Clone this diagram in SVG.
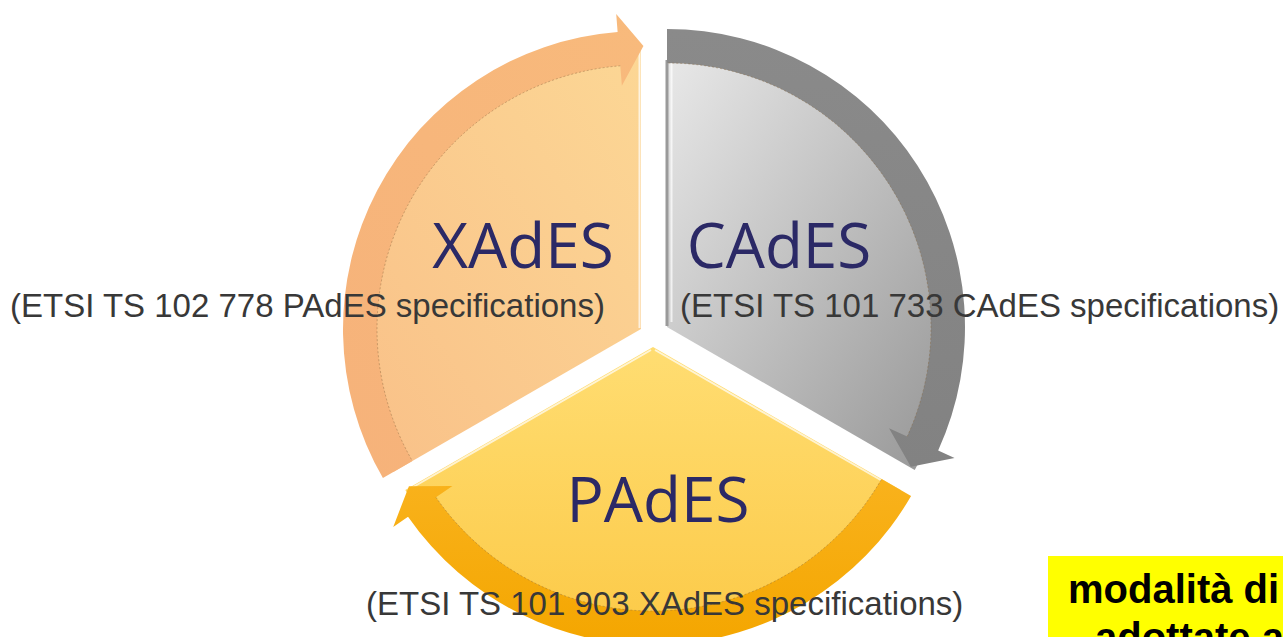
<svg xmlns="http://www.w3.org/2000/svg" width="1283" height="637" viewBox="0 0 1283 637">
  <style>
    .name { font-family: "Open Sans", "Noto Sans", "DejaVu Sans", sans-serif; font-size: 62px; fill: #2B2966; text-anchor: middle; }
    .spec { font-family: "Liberation Sans", Arial, sans-serif; font-size: 33px; fill: #383838; }
    .note { font-family: "Liberation Sans", Arial, sans-serif; font-size: 40px; font-weight: bold; fill: #000000; }
    .seam { stroke: #8a6a40; stroke-width: 0.8; stroke-dasharray: 2 2; fill: none; opacity: 0.55; }
    .hi { stroke: #ffffff; stroke-width: 2; opacity: 0.7; fill: none; }
  </style>
  <defs>
    <linearGradient id="xBody" x1="1" y1="0" x2="0" y2="1">
      <stop offset="0" stop-color="#FCD795"/>
      <stop offset="1" stop-color="#F9C088"/>
    </linearGradient>
    <linearGradient id="xBand" x1="0" y1="1" x2="1" y2="0">
      <stop offset="0" stop-color="#F6B27A"/>
      <stop offset="1" stop-color="#F8BA7C"/>
    </linearGradient>
    <linearGradient id="cBody" x1="0" y1="0" x2="1" y2="1">
      <stop offset="0" stop-color="#EAEAEA"/>
      <stop offset="1" stop-color="#959595"/>
    </linearGradient>
    <linearGradient id="cBand" x1="0" y1="0" x2="0" y2="1">
      <stop offset="0" stop-color="#8A8A8A"/>
      <stop offset="1" stop-color="#828282"/>
    </linearGradient>
    <linearGradient id="pBody" x1="0" y1="0" x2="0" y2="1">
      <stop offset="0" stop-color="#FFDD72"/>
      <stop offset="1" stop-color="#FCCA48"/>
    </linearGradient>
    <linearGradient id="pBand" x1="0" y1="0" x2="0" y2="1">
      <stop offset="0" stop-color="#F9B21C"/>
      <stop offset="1" stop-color="#F4A600"/>
    </linearGradient>
  </defs>

  <rect width="1283" height="637" fill="#ffffff"/>

  <!-- upper-left segment -->
  <g id="node-xades">
    <path d="M641,329 L393.32,472 A286,286 0 0 1 641,43 Z" fill="url(#xBody)"/>
    <line x1="639.5" y1="45" x2="639.5" y2="328" class="hi"/>
    <path d="M382.92,478 A298,298 0 0 1 617.62,31.92 L616.21,13.97 L643.45,46 L621.86,85.75 L620.29,65.81 A264,264 0 0 0 412.37,461 Z" fill="url(#xBand)"/>
    <path d="M620.29,65.81 A264,264 0 0 0 412.37,461" class="seam"/>
    <text class="name" x="523" y="268">XAdES</text>
    <text class="spec" x="10" y="317">(ETSI TS 102 778 PAdES specifications)</text>
  </g>

  <!-- upper-right segment -->
  <g id="node-cades">
    <path d="M667,327 L667,41 A286,286 0 0 1 914.68,470 Z" fill="url(#cBody)"/>
    <line x1="667" y1="60" x2="667" y2="326" stroke="#9a9a9a" stroke-width="3"/>
    <line x1="671.5" y1="63" x2="671.5" y2="322" class="hi" stroke-width="3"/>
    <path d="M667,29 A298,298 0 0 1 938.17,450.58 L954.55,458.04 L910.83,466.65 L889.03,428.18 L907.23,436.48 A264,264 0 0 0 667,63 Z" fill="url(#cBand)"/>
    <path d="M907.23,436.48 A264,264 0 0 0 667,63" class="seam" stroke="#555555"/>
    <text class="name" x="779" y="268">CAdES</text>
    <text class="spec" x="680" y="317">(ETSI TS 101 733 CAdES specifications)</text>
  </g>

  <!-- bottom segment -->
  <g id="node-pades">
    <path d="M653,347 L900.68,490 A286,286 0 0 1 405.32,490 Z" fill="url(#pBody)"/>
    <path d="M655,350 L898,490 M651,350 L408,490" class="hi" opacity="0.45"/>
    <path d="M911.08,496 A298,298 0 0 1 408.03,516.68 L393.23,526.93 L408.92,486.22 L452.42,485.93 L435.98,497.32 A264,264 0 0 0 881.63,479 Z" fill="url(#pBand)"/>
    <path d="M435.98,497.32 A264,264 0 0 0 881.63,479" class="seam"/>
    <text class="name" x="658" y="522">PAdES</text>
    <text class="spec" x="366" y="615">(ETSI TS 101 903 XAdES specifications)</text>
  </g>

  <!-- highlighted caption, cut by the right edge -->
  <g id="caption">
    <rect x="1048" y="556" width="240" height="90" fill="#FFFF00"/>
    <text class="note" x="1068" y="603">modalità di</text>
    <text class="note" x="1095" y="651">adottate a</text>
  </g>
</svg>
